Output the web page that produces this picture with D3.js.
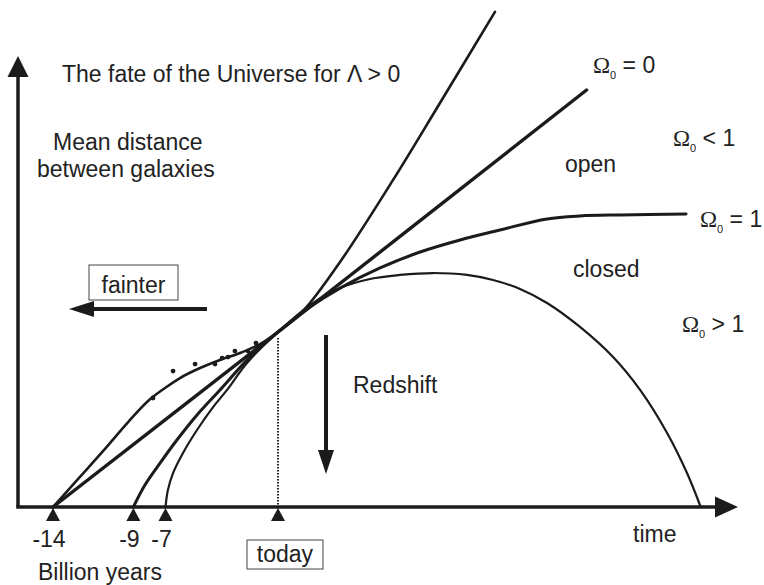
<!DOCTYPE html>
<html><head><meta charset="utf-8">
<script src="https://cdn.jsdelivr.net/npm/d3@7"></script>
<style>
html,body{margin:0;padding:0;background:#fff}
svg{display:block}
text{font-family:"Liberation Sans",Arial,Helvetica,sans-serif;fill:#222}
</style>
</head><body>
<svg id="c" width="764" height="585"></svg>
<script>
// ---- data: [time in billion years relative to today, relative mean distance (today = 1)]
const lambdaPositive = [[-14,0],[-12.38,0.166],[-10.82,0.326],[-9.27,0.491],[-8.02,0.611],[-7.03,0.68],[-6.1,0.737],[-4.85,0.794],[-3.61,0.84],[-2.36,0.88],[-1.12,0.931],[0,1],[1.56,1.12],[3.86,1.4],[7.16,1.869],[9.89,2.28],[13.5,2.829]];
const omegaZero = [[-14,0],[0,1],[19.2,2.383]];
const omegaOne = [[-9,0],[-8.28,0.126],[-7.34,0.251],[-6.29,0.383],[-5.04,0.526],[-3.61,0.669],[-1.87,0.845],[0,1],[1.99,1.143],[3.86,1.251],[6.35,1.366],[8.84,1.457],[11.33,1.526],[13.81,1.583],[16.74,1.646],[18.79,1.663],[21.28,1.669],[25.39,1.674]];
const omegaClosed = [[-7,0],[-6.85,0.097],[-6.53,0.194],[-5.91,0.309],[-5.04,0.44],[-4.04,0.571],[-3.17,0.669],[-1.93,0.823],[0,1],[1.99,1.154],[3.86,1.251],[5.72,1.303],[7.59,1.326],[9.65,1.337],[11.76,1.326],[13.38,1.297],[15.06,1.246],[16.74,1.166],[18.79,1.029],[20.85,0.857],[22.53,0.669],[24.21,0.423],[25.45,0.194],[26.3,0]];
const supernovae = [[-7.78,0.623],[-6.53,0.777],[-5.16,0.817],[-3.92,0.817],[-3.48,0.851],[-3.11,0.857],[-2.68,0.891],[-1.87,0.891],[-1.37,0.937]];
const tickValues = [-14,-9,-7,0];
const tickLabels = ["-14","-9","-7",""];
const todayValue = 0;

const svg = d3.select("#c");
const x = d3.scaleLinear().domain([-14,0]).range([53,278]);
const y = d3.scaleLinear().domain([0,1]).range([507,332]);
const ink = "#1b1b1b";

const line = d3.line().x(d=>x(d[0])).y(d=>y(d[1])).curve(d3.curveCatmullRom.alpha(0.5));

// dotted "today" line
svg.append("line").attr("x1",x(todayValue)).attr("x2",x(todayValue))
  .attr("y1",y(1)+6).attr("y2",y(0)).attr("stroke","#222").attr("stroke-width",2)
  .attr("stroke-dasharray","1.5,1.5");

// curves
const curves = [
  {d:lambdaPositive,w:2.6},
  {d:omegaZero,w:3.4},
  {d:omegaOne,w:3},
  {d:omegaClosed,w:2.2}
];
svg.selectAll("path.curve").data(curves).enter().append("path").attr("class","curve")
  .attr("d",c=>line(c.d)).attr("fill","none").attr("stroke",ink)
  .attr("stroke-width",c=>c.w).attr("stroke-linecap","round").attr("stroke-linejoin","round");

// data points
svg.selectAll("circle.sn").data(supernovae).enter().append("circle").attr("class","sn")
  .attr("cx",d=>x(d[0])).attr("cy",d=>y(d[1])).attr("r",2.4).attr("fill",ink);

// axes
const ax = 18, ay = y(0);
svg.append("line").attr("x1",ax).attr("y1",ay).attr("x2",ax).attr("y2",75)
  .attr("stroke",ink).attr("stroke-width",3.5);
svg.append("polygon").attr("points",`${ax},56 ${ax-10.5},77 ${ax+10.5},77`).attr("fill",ink);
svg.append("line").attr("x1",ax-1.75).attr("y1",ay).attr("x2",717).attr("y2",ay)
  .attr("stroke",ink).attr("stroke-width",3.5);
svg.append("polygon").attr("points",`738,${ay} 715,${ay-10.5} 715,${ay+10.5}`).attr("fill",ink);

// tick triangles and labels
const tg = svg.selectAll("g.tick").data(tickValues).enter().append("g").attr("class","tick")
  .attr("transform",d=>`translate(${x(d)},0)`);
tg.append("polygon").attr("points",`0,${ay+1} -7,${ay+14} 7,${ay+14}`).attr("fill",ink);
tg.append("text").attr("x",-4).attr("y",547).attr("text-anchor","middle")
  .attr("font-size",23).text((d,i)=>tickLabels[i]);

// today box
svg.append("rect").attr("x",247).attr("y",540).attr("width",76).attr("height",29)
  .attr("fill","none").attr("stroke","#444").attr("stroke-width",1);
svg.append("text").attr("x",285).attr("y",562).attr("text-anchor","middle").attr("font-size",23).text("today");

// fainter box and arrow
svg.append("rect").attr("x",89).attr("y",265).attr("width",89).attr("height",35)
  .attr("fill","none").attr("stroke","#444").attr("stroke-width",1);
svg.append("text").attr("x",133.5).attr("y",293).attr("text-anchor","middle").attr("font-size",23).text("fainter");
svg.append("line").attr("x1",92).attr("y1",309).attr("x2",207).attr("y2",309).attr("stroke",ink).attr("stroke-width",4);
svg.append("polygon").attr("points","69,309 94,301 94,317").attr("fill",ink);

// redshift arrow
svg.append("line").attr("x1",326).attr("y1",335).attr("x2",326).attr("y2",452).attr("stroke",ink).attr("stroke-width",4);
svg.append("polygon").attr("points","326,474 318,450 334,450").attr("fill",ink);

// plain texts
const texts = [
  ["The fate of the Universe for \u039B > 0",62,82],
  ["Mean distance",53,150],
  ["between galaxies",37,177],
  ["open",565,172],
  ["closed",573,277],
  ["Redshift",353,393],
  ["Billion years",38,580],
  ["time",633,542]
];
svg.selectAll("text.lbl").data(texts).enter().append("text").attr("class","lbl")
  .attr("x",d=>d[1]).attr("y",d=>d[2]).attr("font-size",23).text(d=>d[0]);

// omega labels
const omegaLabels = [["= 0",593,73],["< 1",673,146],["= 1",700,227],["> 1",682,332]];
omegaLabels.forEach(o=>{
  const t = svg.append("text").attr("x",o[1]).attr("y",o[2]).attr("font-size",23);
  t.append("tspan").style("font-family","'Liberation Serif','Times New Roman',serif").text("\u03A9");
  t.append("tspan").attr("font-size",11).attr("dy",6).text("0");
  t.append("tspan").attr("dy",-6).text(" " + o[0]);
});
</script>
</body></html>
